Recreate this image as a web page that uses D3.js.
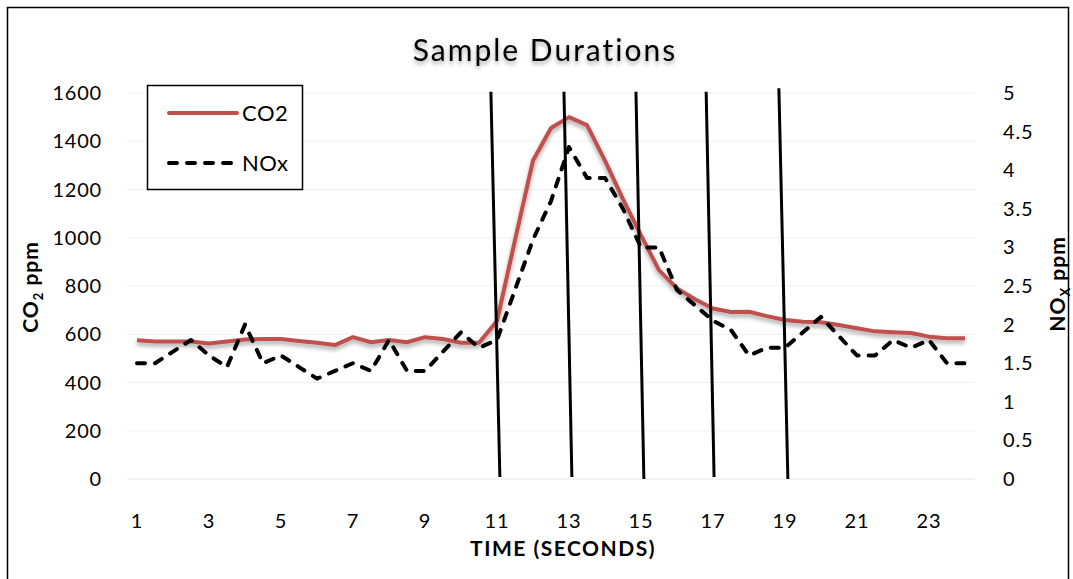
<!DOCTYPE html>
<html>
<head>
<meta charset="utf-8">
<script src="https://cdn.jsdelivr.net/npm/d3@7"></script>
<style>
  body { margin: 0; background: #fff; }
  svg { display: block; font-family: Lato, "Open Sans", sans-serif; }
</style>
</head>
<body>
<svg id="chart" width="1073" height="579"></svg>
<script>
// time in seconds, sampled every half second
const times = d3.range(1, 24.01, 0.5);

const co2 = [575, 570, 570, 570, 562, 570, 578, 580, 580, 572, 565, 555, 588, 567, 576, 567,
  588, 580, 565, 565, 655, 990, 1320, 1455, 1500, 1467, 1320, 1160, 1010, 866, 790, 745,
  707, 692, 693, 675, 659, 652, 650, 638, 625, 612, 608, 605, 590, 583, 583];

const nox = [1.5, 1.5, 1.65, 1.8, 1.6, 1.45, 2.0, 1.5, 1.6, 1.45, 1.3, 1.4, 1.5, 1.4, 1.8, 1.4,
  1.4, 1.65, 1.9, 1.7, 1.8, 2.45, 3.1, 3.6, 4.3, 3.9, 3.9, 3.5, 3.0, 3.0, 2.45, 2.25,
  2.05, 1.93, 1.6, 1.7, 1.7, 1.9, 2.1, 1.85, 1.6, 1.6, 1.8, 1.7, 1.8, 1.5, 1.5];

// sample duration markers (slanted lines), x in seconds, y in ppm
const markTopX = [10.83, 12.86, 14.86, 16.81, 18.83];
const markBotX = [11.08, 13.08, 15.08, 17.03, 19.08];
const markTopY = [1605, 1605, 1605, 1605, 1620];
const markBotY = [8, 8, 0, 8, 0];

const xTicks = d3.range(1, 24, 2);
const leftTicks = d3.range(0, 1601, 200);
const rightTicks = d3.range(0, 5.01, 0.5);

const svg = d3.select("#chart");

const x = d3.scaleLinear().domain([1, 24]).range([137, 965]);
const yL = d3.scaleLinear().domain([0, 1600]).range([479, 93]);
const yR = d3.scaleLinear().domain([0, 5]).range([479, 93]);

// shadow filter like the Excel effect
const defs = svg.append("defs");
const f = defs.append("filter").attr("id", "shadow")
  .attr("x", "-10%").attr("y", "-10%").attr("width", "120%").attr("height", "140%");
f.append("feDropShadow").attr("dx", 0).attr("dy", 3).attr("stdDeviation", 2)
  .attr("flood-color", "#000").attr("flood-opacity", 0.35);

// outer border
svg.append("rect")
  .attr("x", 7.5).attr("y", 7.5).attr("width", 1061).attr("height", 580)
  .attr("fill", "none").attr("stroke", "#000").attr("stroke-width", 1.5);

// gridlines
svg.append("g").selectAll("line")
  .data(leftTicks)
  .enter()
  .append("line")
  .attr("x1", 127).attr("x2", 975)
  .attr("y1", d => yL(d)).attr("y2", d => yL(d))
  .attr("stroke", d => d === 0 ? "#e6e6e6" : "#f0f0f0")
  .attr("stroke-width", 1);

// title
svg.append("text")
  .attr("x", 545).attr("y", 61)
  .attr("text-anchor", "middle")
  .attr("font-size", 30)
  .attr("letter-spacing", 2)
  .attr("filter", "url(#shadow)")
  .text("Sample Durations");

// left axis labels
svg.append("g").selectAll("text")
  .data(leftTicks)
  .enter()
  .append("text")
  .attr("x", 102).attr("y", d => yL(d) + 7)
  .attr("text-anchor", "end")
  .attr("font-size", 20)
  .attr("letter-spacing", 0.8)
  .text(d => d);

// right axis labels
svg.append("g").selectAll("text")
  .data(rightTicks)
  .enter()
  .append("text")
  .attr("x", 1003).attr("y", d => yR(d) + 7)
  .attr("font-size", 20)
  .attr("letter-spacing", 0.8)
  .text(d => d);

// x axis labels
svg.append("g").selectAll("text")
  .data(xTicks)
  .enter()
  .append("text")
  .attr("x", d => x(d)).attr("y", 528)
  .attr("text-anchor", "middle")
  .attr("font-size", 20)
  .attr("letter-spacing", 0.8)
  .text(d => d);

// axis titles
svg.append("text")
  .attr("x", 563).attr("y", 556)
  .attr("text-anchor", "middle")
  .attr("font-size", 21).attr("font-weight", "bold")
  .attr("letter-spacing", 1.5)
  .text("TIME (SECONDS)");

const lt = svg.append("text")
  .attr("transform", "translate(38,287) rotate(-90)")
  .attr("text-anchor", "middle")
  .attr("font-size", 21).attr("font-weight", "bold")
  .attr("letter-spacing", 1);
lt.append("tspan").text("CO");
lt.append("tspan").attr("font-size", 13).attr("dy", 5).text("2");
lt.append("tspan").attr("dy", -5).text(" ppm");

const rt = svg.append("text")
  .attr("transform", "translate(1065,284) rotate(-90)")
  .attr("text-anchor", "middle")
  .attr("font-size", 21).attr("font-weight", "bold")
  .attr("letter-spacing", 1);
rt.append("tspan").text("NO");
rt.append("tspan").attr("font-size", 13).attr("dy", 5).text("X");
rt.append("tspan").attr("dy", -5).text(" ppm");

// data lines
const co2Line = d3.line().x((d, i) => x(times[i])).y(d => yL(d));
const noxLine = d3.line().x((d, i) => x(times[i])).y(d => yR(d));

svg.append("path")
  .datum(co2)
  .attr("d", co2Line)
  .attr("fill", "none")
  .attr("stroke", "#c0504d")
  .attr("stroke-width", 4)
  .attr("stroke-linejoin", "round")
  .attr("filter", "url(#shadow)");

svg.append("path")
  .datum(nox)
  .attr("d", noxLine)
  .attr("fill", "none")
  .attr("stroke", "#000")
  .attr("stroke-width", 4)
  .attr("stroke-dasharray", "8,10")
  .attr("stroke-linecap", "round")
  .attr("stroke-linejoin", "round");

// duration markers
svg.append("g").selectAll("line")
  .data(markTopX)
  .enter()
  .append("line")
  .attr("x1", d => x(d)).attr("y1", (d, i) => yL(markTopY[i]))
  .attr("x2", (d, i) => x(markBotX[i])).attr("y2", (d, i) => yL(markBotY[i]))
  .attr("stroke", "#000")
  .attr("stroke-width", 3);

// legend
const lg = svg.append("g");
lg.append("rect")
  .attr("x", 147.5).attr("y", 85.5).attr("width", 155).attr("height", 104)
  .attr("fill", "#fff").attr("stroke", "#000").attr("stroke-width", 1.5);
lg.append("line")
  .attr("x1", 169).attr("x2", 237).attr("y1", 113).attr("y2", 113)
  .attr("stroke", "#c0504d").attr("stroke-width", 4).attr("stroke-linecap", "round");
lg.append("line")
  .attr("x1", 169).attr("x2", 237).attr("y1", 163).attr("y2", 163)
  .attr("stroke", "#000").attr("stroke-width", 4)
  .attr("stroke-dasharray", "8,10").attr("stroke-linecap", "round");
lg.append("text").attr("x", 242).attr("y", 121).attr("font-size", 22).attr("letter-spacing", 0.5).text("CO2");
lg.append("text").attr("x", 242).attr("y", 171).attr("font-size", 22).attr("letter-spacing", 0.5).text("NOx");
</script>
</body>
</html>
